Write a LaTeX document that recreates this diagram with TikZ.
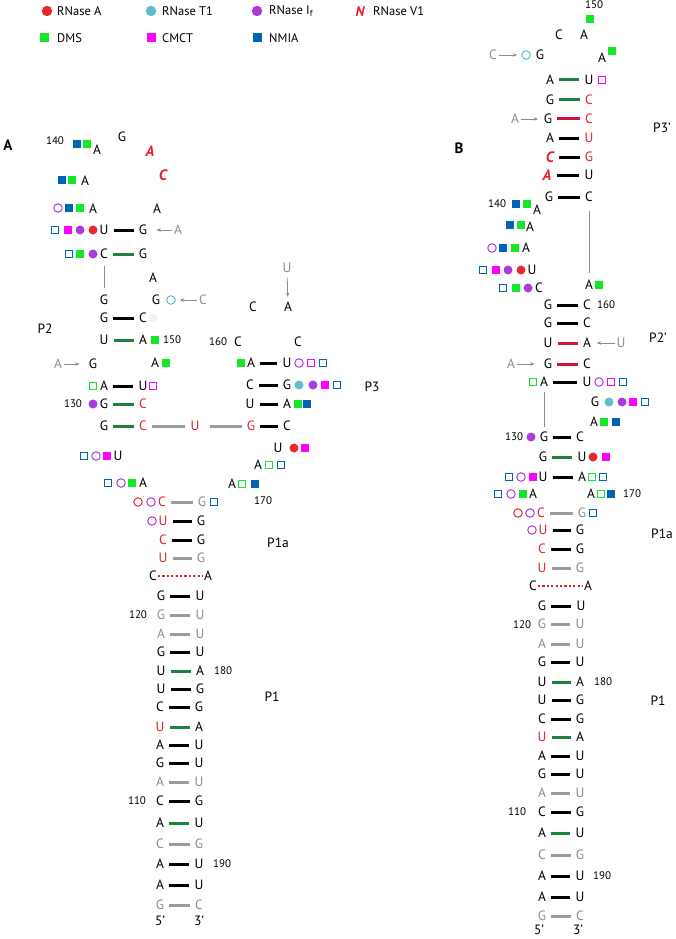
\documentclass[tikz,border=0pt]{standalone}
\usepackage{fontspec}
\setmainfont{PT Sans}
\usetikzlibrary{arrows.meta}
\definecolor{rnred}{RGB}{228,32,42}
\definecolor{bpgreen}{RGB}{30,130,60}
\definecolor{bpred}{RGB}{210,20,60}
\definecolor{ntgray}{RGB}{140,140,140}
\definecolor{bpgray}{RGB}{155,155,155}
\definecolor{dmsgreen}{RGB}{20,230,40}
\definecolor{cmctmag}{RGB}{255,0,255}
\definecolor{nmiablue}{RGB}{0,100,175}
\definecolor{tteal}{RGB}{95,190,200}
\definecolor{ifpurple}{RGB}{170,60,220}
\definecolor{rared}{RGB}{230,40,50}

\begin{document}
\begin{tikzpicture}[x=1pt,y=-1pt]
\tikzstyle{nt}=[inner sep=0pt,font=\fontsize{13.5}{14}\selectfont]
\tikzstyle{ntr}=[nt,text=rnred]
\tikzstyle{ntg}=[nt,text=ntgray]
\tikzstyle{ntv}=[inner sep=0pt,text=rnred,font=\fontsize{15}{15}\selectfont\bfseries\itshape]
\tikzstyle{num}=[inner sep=0pt,font=\fontsize{11}{11}\selectfont]
\tikzstyle{stem}=[inner sep=0pt,font=\fontsize{13.5}{14}\selectfont]
\tikzstyle{lgt}=[inner sep=0pt,anchor=west,font=\fontsize{12.5}{13}\selectfont]
\tikzstyle{mk}=[inner sep=0pt,minimum size=7.5pt]
\tikzstyle{dms}=[mk,rectangle,fill=dmsgreen]
\tikzstyle{cmct}=[mk,rectangle,fill=cmctmag]
\tikzstyle{nmia}=[mk,rectangle,fill=nmiablue]
\tikzstyle{odms}=[mk,rectangle,draw=dmsgreen,line width=1pt,minimum size=7pt]
\tikzstyle{ocmct}=[mk,rectangle,draw=cmctmag,line width=1pt,minimum size=7pt]
\tikzstyle{onmia}=[mk,rectangle,draw=nmiablue,line width=1pt,minimum size=7pt]
\tikzstyle{rna}=[mk,circle,fill=rared,minimum size=9pt]
\tikzstyle{rnt}=[mk,circle,fill=tteal,minimum size=9pt]
\tikzstyle{rni}=[mk,circle,fill=ifpurple,minimum size=9pt]
\tikzstyle{orna}=[mk,circle,draw=rared,line width=1pt,minimum size=8.5pt]
\tikzstyle{ornt}=[mk,circle,draw=tteal,line width=1pt,minimum size=8.5pt]
\tikzstyle{orni}=[mk,circle,draw=ifpurple,line width=1pt,minimum size=8.5pt]
\tikzstyle{bpk}=[draw,line width=3pt,shorten <=5pt,shorten >=5pt]
\tikzstyle{bpn}=[bpk,bpgreen]
\tikzstyle{bpr}=[bpk,bpred]
\tikzstyle{bpgr}=[bpk,bpgray]
\tikzstyle{bpd}=[draw,rnred,line width=2.2pt,dash pattern=on 2.2pt off 2.2pt,shorten <=1pt,shorten >=1pt]
\tikzstyle{bb}=[draw,ntgray,line width=1pt,shorten <=7pt,shorten >=7pt]
\tikzstyle{hit}=[draw,ntgray,line width=0.8pt,shorten <=1.5pt,shorten >=4pt,-{Stealth[length=4.5pt,width=3.5pt]}]

\useasboundingbox (0,0) rectangle (675,939);

% legend
\node[rna,minimum size=10.5pt] (lg1) at (47,11) {};
\node[lgt] (lg1t) at (57,11) {RNase A};
\node[rnt,minimum size=10.5pt] (lg2) at (151,11) {};
\node[lgt] (lg2t) at (162,11) {RNase T1};
\node[rni,minimum size=10.5pt] (lg3) at (257,11) {};
\node[lgt] (lg3t) at (269,11) {RNase I\textsubscript{f}};
\node[ntv,font=\fontsize{14}{14}\selectfont\bfseries\itshape] (lg4) at (360,12) {N};
\node[lgt] (lg4t) at (373,11) {RNase V1};
\node[dms,minimum size=9pt] (lg5) at (44,38) {};
\node[lgt] (lg5t) at (57,38) {DMS};
\node[cmct,minimum size=9pt] (lg6) at (151,38) {};
\node[lgt] (lg6t) at (162,38) {CMCT};
\node[nmia,minimum size=9pt] (lg7) at (257,38) {};
\node[lgt] (lg7t) at (269,38) {NMIA};

% panel A
\node[inner sep=0pt,font=\fontsize{15}{15}\selectfont\bfseries] (pA) at (8,145) {A};
\node[ntg] (a105) at (160,905) {G};
\node[nt] (a106) at (160,885) {A};
\node[nt] (a107) at (160,864) {A};
\node[ntg] (a108) at (160,844) {C};
\node[nt] (a109) at (160,823) {A};
\node[nt] (a110) at (160,801) {C};
\node[ntg] (a111) at (160,782) {A};
\node[nt] (a112) at (160,763) {G};
\node[nt] (a113) at (160,745) {A};
\node[ntr] (a114) at (160,727) {U};
\node[nt] (a115) at (160,707) {C};
\node[nt] (a116) at (161,689) {U};
\node[nt] (a117) at (161,671) {U};
\node[nt] (a118) at (161,652) {G};
\node[ntg] (a119) at (161,634) {A};
\node[ntg] (a120) at (161,615) {G};
\node[nt] (a121) at (161,596) {G};
\node[nt] (a122) at (153,576) {C};
\node[ntr] (a123) at (163,558) {U};
\node[ntr] (a124) at (163,540) {C};
\node[ntr] (a125) at (163,521) {U};
\node[ntr] (a126) at (162,502) {C};
\node[nt] (a127) at (143,483) {A};
\node[nt] (a128) at (118,456) {U};
\node[nt] (a129) at (104,426) {G};
\node[nt] (a130) at (104,404) {G};
\node[nt] (a131) at (104,386) {A};
\node[nt] (a132) at (93,364) {G};
\node[nt] (a133) at (104,340) {U};
\node[nt] (a134) at (104,318) {G};
\node[nt] (a135) at (104,300) {G};
\node[nt] (a136) at (104,254) {C};
\node[nt] (a137) at (104,230) {U};
\node[nt] (a138) at (93,209) {A};
\node[nt] (a139) at (85,181) {A};
\node[nt] (a140) at (97,150) {A};
\node[nt] (a141) at (122,137) {G};
\node[ntv] (a142) at (150,151) {A};
\node[ntv] (a143) at (163,175) {C};
\node[nt] (a144) at (157,209) {A};
\node[nt] (a145) at (143,230) {G};
\node[nt] (a146) at (143,254) {G};
\node[nt] (a147) at (153,278) {A};
\node[nt] (a148) at (156,300) {G};
\node[nt] (a149) at (143,318) {C};
\node[nt] (a150) at (143,340) {A};
\node[nt] (a151) at (155,363) {A};
\node[nt] (a152) at (143,386) {U};
\node[ntr] (a153) at (143,404) {C};
\node[ntr] (a154) at (143,426) {C};
\node[ntr] (a155) at (195,426) {U};
\node[ntr] (a156) at (251,426) {G};
\node[nt] (a157) at (250,404) {U};
\node[nt] (a158) at (250,385) {C};
\node[nt] (a159) at (251,363) {A};
\node[nt] (a160) at (238,342) {C};
\node[nt] (a161) at (253,307) {C};
\node[nt] (a162) at (288,307) {A};
\node[nt] (a163) at (298,342) {C};
\node[nt] (a164) at (287,363) {U};
\node[nt] (a165) at (287,385) {G};
\node[nt] (a166) at (287,404) {A};
\node[nt] (a167) at (287,426) {C};
\node[nt] (a168) at (278,448) {U};
\node[nt] (a169) at (258,465) {A};
\node[nt] (a170) at (232,484) {A};
\node[ntg] (a171) at (202,502) {G};
\node[nt] (a172) at (201,521) {G};
\node[nt] (a173) at (201,540) {G};
\node[ntg] (a174) at (201,558) {G};
\node[nt] (a175) at (208,576) {A};
\node[nt] (a176) at (200,596) {U};
\node[ntg] (a177) at (200,615) {U};
\node[ntg] (a178) at (200,634) {U};
\node[nt] (a179) at (200,652) {U};
\node[nt] (a180) at (200,671) {A};
\node[nt] (a181) at (200,689) {G};
\node[nt] (a182) at (199,707) {G};
\node[nt] (a183) at (199,727) {A};
\node[nt] (a184) at (199,745) {U};
\node[nt] (a185) at (199,763) {U};
\node[ntg] (a186) at (199,782) {U};
\node[nt] (a187) at (199,801) {G};
\node[nt] (a188) at (199,823) {U};
\node[ntg] (a189) at (199,844) {G};
\node[nt] (a190) at (199,864) {U};
\node[nt] (a191) at (199,885) {U};
\node[ntg] (a192) at (199,905) {C};
\node[nt] (a5p) at (160,921) {5’};
\node[nt] (a3p) at (199,921) {3’};

\node[num] (na110) at (137,801) {110};
\node[num] (na120) at (138,615) {120};
\node[num] (na130) at (73,404) {130};
\node[num] (na140) at (55,141) {140};
\node[num] (na150) at (172,340) {150};
\node[num] (na160) at (218,342) {160};
\node[num] (na170) at (263,501) {170};
\node[num] (na180) at (223,671) {180};
\node[num] (na190) at (222,864) {190};

\node[stem] (sa1) at (272,697) {P1};
\node[stem] (sa1a) at (278,543) {P1a};
\node[stem] (sa2) at (45,329) {P2};
\node[stem] (sa3) at (372,387) {P3};

\path (a105) edge[bpgr] (a192);
\path (a106) edge[bpk] (a191);
\path (a107) edge[bpk] (a190);
\path (a108) edge[bpgr] (a189);
\path (a109) edge[bpn] (a188);
\path (a110) edge[bpk] (a187);
\path (a111) edge[bpgr] (a186);
\path (a112) edge[bpk] (a185);
\path (a113) edge[bpk] (a184);
\path (a114) edge[bpn] (a183);
\path (a115) edge[bpk] (a182);
\path (a116) edge[bpk] (a181);
\path (a117) edge[bpn] (a180);
\path (a118) edge[bpk] (a179);
\path (a119) edge[bpgr] (a178);
\path (a120) edge[bpgr] (a177);
\path (a121) edge[bpk] (a176);
\path (a122) edge[bpd] (a175);
\path (a123) edge[bpgr] (a174);
\path (a124) edge[bpk] (a173);
\path (a125) edge[bpk] (a172);
\path (a126) edge[bpgr] (a171);
\path (a129) edge[bpn] (a154);
\path (a130) edge[bpn] (a153);
\path (a131) edge[bpk] (a152);
\path (a133) edge[bpn] (a150);
\path (a134) edge[bpk] (a149);
\path (a136) edge[bpn] (a146);
\path (a137) edge[bpk] (a145);
\path (a154) edge[bpgr] (a155);
\path (a155) edge[bpgr,shorten <=10pt] (a156);
\path (a156) edge[bpk] (a167);
\path (a157) edge[bpk] (a166);
\path (a158) edge[bpk] (a165);
\path (a159) edge[bpk] (a164);
\path (a136) edge[bb] (a135);

\node[nmia] (ma140a) at (77,144) {};
\node[dms] (ma140b) at (87,144) {};
\node[nmia] (ma139a) at (62,180) {};
\node[dms] (ma139b) at (72,180) {};
\node[orni] (ma138a) at (58,208) {};
\node[nmia] (ma138b) at (69,208) {};
\node[dms] (ma138c) at (80,208) {};
\node[onmia] (ma137a) at (55,230) {};
\node[cmct] (ma137b) at (68,230) {};
\node[rni] (ma137c) at (80,230) {};
\node[rna] (ma137d) at (93,230) {};
\node[onmia] (ma136a) at (69,254) {};
\node[dms] (ma136b) at (80,254) {};
\node[rni] (ma136c) at (93,254) {};
\node[ornt] (ma148a) at (171,300) {};
\node[mk,circle,fill=black!5,minimum size=9pt] (ma149a) at (153,318) {};
\node[dms] (ma150a) at (155,340) {};
\node[dms] (ma151a) at (166,363) {};
\node[odms] (ma131a) at (93,386) {};
\node[ocmct] (ma152a) at (153,386) {};
\node[rni] (ma130a) at (93,404) {};
\node[onmia] (ma128a) at (84,456) {};
\node[orni] (ma128b) at (96,456) {};
\node[cmct] (ma128c) at (107,456) {};
\node[onmia] (ma127a) at (108,483) {};
\node[orni] (ma127b) at (121,483) {};
\node[dms] (ma127c) at (132,483) {};
\node[orna] (ma126a) at (138,502) {};
\node[orni] (ma126b) at (151,502) {};
\node[onmia] (ma171a) at (214,502) {};
\node[orni] (ma125a) at (152,521) {};
\node[dms] (ma159a) at (241,363) {};
\node[orni] (ma164a) at (299,363) {};
\node[ocmct] (ma164b) at (311,363) {};
\node[onmia] (ma164c) at (323,363) {};
\node[rnt] (ma165a) at (299,385) {};
\node[rni] (ma165b) at (313,385) {};
\node[cmct] (ma165c) at (325,385) {};
\node[onmia] (ma165d) at (337,385) {};
\node[dms] (ma166a) at (298,404) {};
\node[nmia] (ma166b) at (307,404) {};
\node[rna] (ma168a) at (294,448) {};
\node[cmct] (ma168b) at (305,448) {};
\node[odms] (ma169a) at (269,465) {};
\node[onmia] (ma169b) at (281,465) {};
\node[odms] (ma170a) at (242,484) {};
\node[nmia] (ma170b) at (255,484) {};

\node[ntg] (xa145) at (178,230) {A};
\node[ntg] (xa148) at (203,300) {C};
\node[ntg] (xa132) at (58,364) {A};
\node[ntg] (xa162) at (287,268) {U};
\path (xa145) edge[hit,shorten >=9pt] (a145);
\path (xa148) edge[hit] (ma148a);
\path (xa132) edge[hit,shorten >=9pt] (a132);
\path (xa162) edge[hit,shorten <=5pt,shorten >=5pt] (a162);

% panel B
\node[inner sep=0pt,font=\fontsize{15}{15}\selectfont\bfseries] (pB) at (459,148) {B};
\node[ntg] (b105) at (542,916) {G};
\node[nt] (b106) at (542,897) {A};
\node[nt] (b107) at (542,876) {A};
\node[ntg] (b108) at (542,855) {C};
\node[nt] (b109) at (542,833) {A};
\node[nt] (b110) at (542,812) {C};
\node[ntg] (b111) at (542,793) {A};
\node[nt] (b112) at (542,774) {G};
\node[nt] (b113) at (542,756) {A};
\node[ntr] (b114) at (542,737) {U};
\node[nt] (b115) at (542,719) {C};
\node[nt] (b116) at (542,700) {U};
\node[nt] (b117) at (542,682) {U};
\node[nt] (b118) at (542,662) {G};
\node[ntg] (b119) at (542,644) {A};
\node[ntg] (b120) at (542,624) {G};
\node[nt] (b121) at (542,606) {G};
\node[nt] (b122) at (533,586) {C};
\node[ntr] (b123) at (542,568) {U};
\node[ntr] (b124) at (542,549) {C};
\node[ntr] (b125) at (543,530) {U};
\node[ntr] (b126) at (541,513) {C};
\node[nt] (b127) at (533,494) {A};
\node[nt] (b128) at (543,477) {U};
\node[nt] (b129) at (543,457) {G};
\node[nt] (b130) at (544,437) {G};
\node[nt] (b131) at (544,382) {A};
\node[nt] (b132) at (548,364) {G};
\node[nt] (b133) at (548,343) {U};
\node[nt] (b134) at (548,323) {G};
\node[nt] (b135) at (548,305) {G};
\node[nt] (b136) at (539,288) {C};
\node[nt] (b137) at (532,270) {U};
\node[nt] (b138) at (526,248) {A};
\node[nt] (b139) at (530,227) {A};
\node[nt] (b140) at (537,210) {A};
\node[nt] (b141) at (549,197) {G};
\node[ntv] (b142) at (547,175) {A};
\node[ntv] (b143) at (550,157) {C};
\node[nt] (b144) at (550,138) {A};
\node[nt] (b145) at (548,119) {G};
\node[nt] (b146) at (550,100) {G};
\node[nt] (b147) at (550,80) {A};
\node[nt] (b148) at (540,55) {G};
\node[nt] (b149) at (559,35) {C};
\node[nt] (b150) at (584,35) {A};
\node[nt] (b151) at (602,58) {A};
\node[nt] (b152) at (589,80) {U};
\node[ntr] (b153) at (589,100) {C};
\node[ntr] (b154) at (589,119) {C};
\node[ntr] (b155) at (589,138) {U};
\node[ntr] (b156) at (589,157) {G};
\node[nt] (b157) at (589,175) {U};
\node[nt] (b158) at (589,197) {C};
\node[nt] (b159) at (589,285) {A};
\node[nt] (b160) at (587,305) {C};
\node[nt] (b161) at (587,323) {C};
\node[nt] (b162) at (587,343) {A};
\node[nt] (b163) at (587,364) {C};
\node[nt] (b164) at (587,382) {U};
\node[nt] (b165) at (595,402) {G};
\node[nt] (b166) at (594,422) {A};
\node[nt] (b167) at (580,437) {C};
\node[nt] (b168) at (582,457) {U};
\node[nt] (b169) at (582,477) {A};
\node[nt] (b170) at (591,494) {A};
\node[ntg] (b171) at (582,513) {G};
\node[nt] (b172) at (580,530) {G};
\node[nt] (b173) at (580,549) {G};
\node[ntg] (b174) at (580,568) {G};
\node[nt] (b175) at (588,586) {A};
\node[nt] (b176) at (581,606) {U};
\node[ntg] (b177) at (580,624) {U};
\node[ntg] (b178) at (580,644) {U};
\node[nt] (b179) at (580,662) {U};
\node[nt] (b180) at (580,682) {A};
\node[nt] (b181) at (580,700) {G};
\node[nt] (b182) at (580,719) {G};
\node[nt] (b183) at (580,737) {A};
\node[nt] (b184) at (580,756) {U};
\node[nt] (b185) at (580,774) {U};
\node[ntg] (b186) at (580,793) {U};
\node[nt] (b187) at (580,812) {G};
\node[nt] (b188) at (580,833) {U};
\node[ntg] (b189) at (580,855) {G};
\node[nt] (b190) at (580,876) {U};
\node[nt] (b191) at (580,897) {U};
\node[ntg] (b192) at (580,916) {C};
\node[nt] (b5p) at (539,930) {5’};
\node[nt] (b3p) at (578,930) {3’};

\node[num] (nb110) at (517,812) {110};
\node[num] (nb120) at (522,625) {120};
\node[num] (nb130) at (514,437) {130};
\node[num] (nb140) at (497,204) {140};
\node[num] (nb150) at (594,5) {150};
\node[num] (nb160) at (606,305) {160};
\node[num] (nb170) at (632,494) {170};
\node[num] (nb180) at (603,682) {180};
\node[num] (nb190) at (602,876) {190};

\node[stem] (sb1) at (658,701) {P1};
\node[stem] (sb1a) at (662,534) {P1a};
\node[stem] (sb2) at (658,338) {P2’};
\node[stem] (sb3) at (662,128) {P3’};

\path (b105) edge[bpgr] (b192);
\path (b106) edge[bpk] (b191);
\path (b107) edge[bpk] (b190);
\path (b108) edge[bpgr] (b189);
\path (b109) edge[bpn] (b188);
\path (b110) edge[bpk] (b187);
\path (b111) edge[bpgr] (b186);
\path (b112) edge[bpk] (b185);
\path (b113) edge[bpk] (b184);
\path (b114) edge[bpn] (b183);
\path (b115) edge[bpk] (b182);
\path (b116) edge[bpk] (b181);
\path (b117) edge[bpn] (b180);
\path (b118) edge[bpk] (b179);
\path (b119) edge[bpgr] (b178);
\path (b120) edge[bpgr] (b177);
\path (b121) edge[bpk] (b176);
\path (b122) edge[bpd] (b175);
\path (b123) edge[bpgr] (b174);
\path (b124) edge[bpk] (b173);
\path (b125) edge[bpk] (b172);
\path (b126) edge[bpgr] (b171);
\path (b128) edge[bpk] (b169);
\path (b129) edge[bpn] (b168);
\path (b130) edge[bpk] (b167);
\path (b131) edge[bpk] (b164);
\path (b132) edge[bpr] (b163);
\path (b133) edge[bpr] (b162);
\path (b134) edge[bpk] (b161);
\path (b135) edge[bpk] (b160);
\path (b141) edge[bpk] (b158);
\path (b142) edge[bpk] (b157);
\path (b143) edge[bpk] (b156);
\path (b144) edge[bpk] (b155);
\path (b145) edge[bpr] (b154);
\path (b146) edge[bpn] (b153);
\path (b147) edge[bpn] (b152);
\path (b158) edge[bb,shorten <=9pt] (b159);
\path (b131) edge[bb,shorten <=5pt,shorten >=5pt] (b130);

\node[dms] (mb150a) at (590,19) {};
\node[ornt] (mb148a) at (526,55) {};
\node[dms] (mb151a) at (612,51) {};
\node[ocmct] (mb152a) at (602,80) {};
\node[nmia] (mb140a) at (516,204) {};
\node[dms] (mb140b) at (527,204) {};
\node[nmia] (mb139a) at (510,225) {};
\node[dms] (mb139b) at (521,225) {};
\node[orni] (mb138a) at (492,248) {};
\node[nmia] (mb138b) at (503,248) {};
\node[dms] (mb138c) at (515,248) {};
\node[onmia] (mb137a) at (483,270) {};
\node[cmct] (mb137b) at (496,270) {};
\node[rni] (mb137c) at (508,270) {};
\node[rna] (mb137d) at (521,270) {};
\node[onmia] (mb136a) at (503,288) {};
\node[dms] (mb136b) at (516,288) {};
\node[rni] (mb136c) at (528,288) {};
\node[dms] (mb159a) at (599,285) {};
\node[odms] (mb131a) at (533,382) {};
\node[orni] (mb164a) at (599,382) {};
\node[ocmct] (mb164b) at (611,382) {};
\node[onmia] (mb164c) at (623,382) {};
\node[rnt] (mb165a) at (609,402) {};
\node[rni] (mb165b) at (622,402) {};
\node[cmct] (mb165c) at (633,402) {};
\node[onmia] (mb165d) at (645,402) {};
\node[dms] (mb166a) at (604,422) {};
\node[nmia] (mb166b) at (616,422) {};
\node[rni] (mb130a) at (531,437) {};
\node[rna] (mb168a) at (593,457) {};
\node[cmct] (mb168b) at (606,457) {};
\node[onmia] (mb128a) at (509,477) {};
\node[orni] (mb128b) at (521,477) {};
\node[cmct] (mb128c) at (533,477) {};
\node[odms] (mb169a) at (592,477) {};
\node[onmia] (mb169b) at (603,477) {};
\node[onmia] (mb127a) at (498,494) {};
\node[orni] (mb127b) at (511,494) {};
\node[dms] (mb127c) at (523,494) {};
\node[odms] (mb170a) at (601,494) {};
\node[nmia] (mb170b) at (611,494) {};
\node[orna] (mb126a) at (518,513) {};
\node[orni] (mb126b) at (530,513) {};
\node[onmia] (mb171a) at (593,513) {};
\node[orni] (mb125a) at (532,530) {};

\node[ntg] (xb148) at (493,55) {C};
\node[ntg] (xb145) at (515,119) {A};
\node[ntg] (xb162) at (621,343) {U};
\node[ntg] (xb132) at (511,364) {A};
\path (xb148) edge[hit] (mb148a);
\path (xb145) edge[hit,shorten >=5.5pt] (b145);
\path (xb162) edge[hit,shorten >=5.5pt] (b162);
\path (xb132) edge[hit,shorten >=9pt] (b132);

\end{tikzpicture}
\end{document}
